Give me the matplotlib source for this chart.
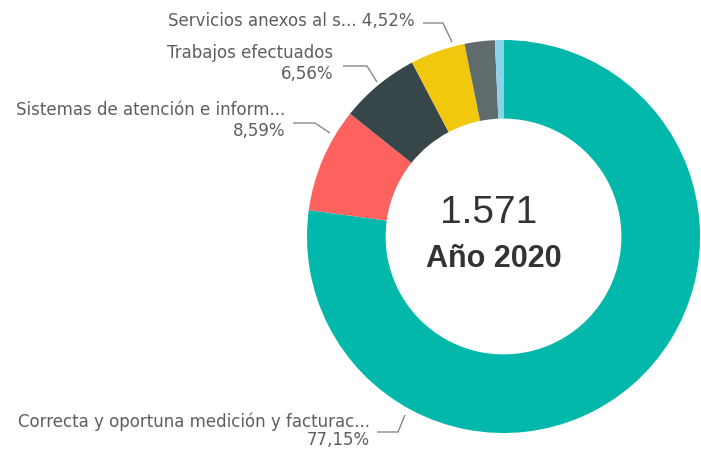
import matplotlib
matplotlib.use("Agg")
import matplotlib.pyplot as plt
import numpy as np

# datos (conteo por categoria, total 1.571)
categorias = ["Correcta y oportuna medición y facturac...",
              "Sistemas de atención e inform...",
              "Trabajos efectuados",
              "Servicios anexos al s...",
              "Otros",
              "Otros 2"]
conteos = [1212, 135, 103, 71, 39, 11]
colores = ["#01B8AA", "#FD625E", "#374649", "#F2C80F", "#5F6B6D", "#8AD4EB"]
anio = "Año 2020"

W, H = 701, 451
cx, cy, R = 503.5, 236.5, 196.5
ancho = 0.40
gris = "#605E5C"


def Y(y):
    # coordenadas de imagen -> coordenadas del eje
    return H - y


fig = plt.figure(figsize=(W / 100, H / 100), dpi=100)
ax = fig.add_axes([0, 0, 1, 1])
ax.set_xlim(0, W)
ax.set_ylim(0, H)
ax.axis("off")

wedges, _ = ax.pie(conteos, colors=colores, startangle=90, counterclock=False,
                   center=(cx, Y(cy)), radius=R,
                   wedgeprops=dict(width=R * ancho, linewidth=0))
ax.set_xlim(0, W)
ax.set_ylim(0, H)
ax.set_aspect("equal")

total = sum(conteos)
pct = [100.0 * c / total for c in conteos]
pct_txt = [("%.2f%%" % p).replace(".", ",") for p in pct]

fuente = dict(family="DejaVu Sans", fontsize=12, color=gris)

# etiquetas: (indice, x derecha, y lineas, una linea?, codo, punta)
etiquetas = [
    (3, 415, [21], True, (423, 23), (443, 23), (452, 42)),
    (2, 333, [53, 74], False, (343, 66), (367, 66), (377, 82)),
    (1, 285, [110, 131], False, (293, 123), (315, 123), (330, 133)),
    (0, 370, [422, 440], False, (377, 432), (398, 432), (405, 415)),
]
for i, xr, ys, una, p0, p1, p2 in etiquetas:
    if una:
        ax.text(xr, Y(ys[0]), categorias[i] + " " + pct_txt[i],
                ha="right", va="center", **fuente)
    else:
        ax.text(xr, Y(ys[0]), categorias[i], ha="right", va="center", **fuente)
        ax.text(xr, Y(ys[1]), pct_txt[i], ha="right", va="center", **fuente)
    ax.plot([p0[0], p1[0], p2[0]], [Y(p0[1]), Y(p1[1]), Y(p2[1])],
            color="#888888", lw=1, solid_capstyle="butt")

total_txt = "{:,}".format(total).replace(",", ".")
ax.text(489, Y(223), total_txt, ha="center", va="baseline",
        fontsize=28, color="#333333", family="Liberation Sans")
ax.text(494, Y(267), anio, ha="center", va="baseline",
        fontsize=22, fontweight="bold", color="#333333", family="Liberation Sans")

fig.savefig("out.png", dpi=100)
